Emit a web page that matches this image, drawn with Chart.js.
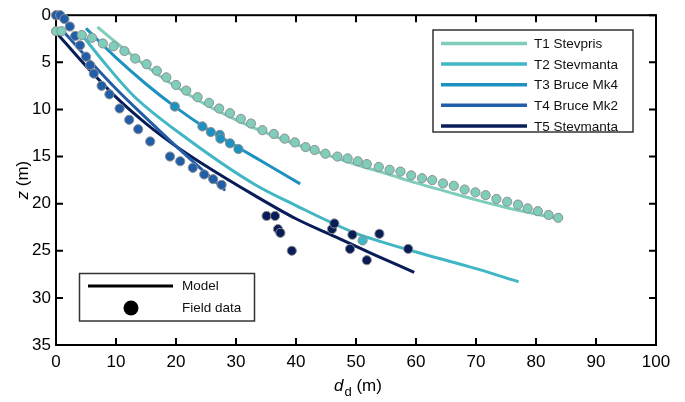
<!DOCTYPE html>
<html>
<head>
<meta charset="utf-8">
<script src="https://cdn.jsdelivr.net/npm/chart.js@4.4.0/dist/chart.umd.min.js"></script>
<style>
  html, body { margin: 0; padding: 0; background: #fff; }
</style>
</head>
<body>
<canvas id="mycanvas" width="685" height="402"></canvas>
<script>
var seriesNames = ["T1 Stevpris", "T2 Stevmanta", "T3 Bruce Mk4", "T4 Bruce Mk2", "T5 Stevmanta"];
var seriesColors = ["#7fcdbb", "#41b6c4", "#1d91c0", "#225ea8", "#081d58"];

var xTicks = [0, 10, 20, 30, 40, 50, 60, 70, 80, 90, 100];
var zTicks = [0, 5, 10, 15, 20, 25, 30, 35];

// model curves: drag distance d_d (m) vs depth z (m)
var t1ModelX = [6.9, 10, 15, 20, 25, 30, 35, 40, 45, 50, 55, 60, 65, 70, 75, 80, 83.6];
var t1ModelZ = [1.25, 2.9, 5.4, 7.6, 9.5, 11.1, 12.5, 13.7, 14.8, 15.85, 16.8, 17.8, 18.7, 19.6, 20.4, 21.1, 21.6];
var t2ModelX = [4.2, 8.4, 13, 21.2, 33.2, 40, 49.8, 54, 61.5, 70, 77.1];
var t2ModelZ = [2.0, 5.3, 8.6, 12.8, 18.0, 20.2, 23.1, 24.0, 25.4, 26.9, 28.3];
var t3ModelX = [5.0, 10, 15, 19.8, 25, 30, 34, 40.7];
var t3ModelZ = [1.4, 4.5, 7.3, 9.7, 12.0, 13.9, 15.4, 17.9];
var t4ModelX = [0.8, 5, 10, 15, 20, 24, 28.2];
var t4ModelZ = [1.4, 4.4, 7.8, 10.9, 13.9, 16.2, 18.6];
var t5ModelX = [0, 5, 10, 15, 20, 24, 33.3, 40, 46.5, 53, 59.7];
var t5ModelZ = [1.8, 5.4, 8.7, 11.5, 13.9, 15.6, 19.2, 21.6, 23.5, 25.4, 27.3];

// field measurements
var t1FieldX = [0.0, 0.9, 4.3, 6.0, 7.8, 9.6, 11.4, 13.2, 15.1, 16.8, 18.4, 20.0, 21.7, 23.6, 25.5, 27.2, 29.0, 30.8, 32.5, 34.4, 36.3, 38.1, 39.8, 41.6, 43.1, 44.9, 46.9, 48.6, 50.3, 51.8, 53.8, 55.6, 57.4, 59.2, 61.0, 62.7, 64.5, 66.3, 68.1, 69.9, 71.6, 73.4, 75.2, 77.0, 78.6, 80.3, 82.1, 83.7];
var t1FieldZ = [1.7, 1.7, 2.1, 2.4, 3.0, 3.3, 3.8, 4.6, 5.2, 5.9, 6.6, 7.4, 8.0, 8.7, 9.3, 9.9, 10.4, 11.0, 11.5, 12.2, 12.6, 13.1, 13.5, 14.0, 14.3, 14.7, 15.0, 15.2, 15.5, 15.8, 16.1, 16.4, 16.6, 17.0, 17.3, 17.5, 17.85, 18.1, 18.5, 18.8, 19.1, 19.5, 19.8, 20.1, 20.5, 20.8, 21.2, 21.5];
var t2FieldX = [51.1];
var t2FieldZ = [23.9];
var t3FieldX = [19.8, 24.4, 25.8, 27.3, 27.4, 29.0, 30.4];
var t3FieldZ = [9.7, 11.8, 12.4, 12.7, 13.1, 13.6, 14.2];
var t4FieldX = [0.0, 0.7, 1.4, 2.3, 3.2, 4.0, 5.0, 5.7, 6.3, 7.6, 8.9, 10.6, 12.2, 13.7, 15.7, 19.0, 20.7, 22.8, 24.7, 26.2, 27.6];
var t4FieldZ = [0.0, 0.0, 0.4, 1.2, 2.2, 3.2, 4.4, 5.3, 6.2, 7.5, 8.4, 9.9, 11.1, 12.1, 13.4, 15.0, 15.5, 16.2, 16.9, 17.4, 18.0];
var t5FieldX = [35.1, 36.5, 37.0, 37.4, 39.3, 46.0, 46.4, 49.4, 49.0, 51.8, 53.9, 58.7];
var t5FieldZ = [21.3, 21.3, 22.7, 23.1, 25.0, 22.7, 22.1, 23.3, 24.8, 26.0, 23.2, 24.8];

var fontFamily = "'Liberation Sans', Arial, Helvetica, sans-serif";

function pairs(xs, zs) {
	var out = [];
	for (var i = 0; i < xs.length; i++) {
		out.push({ x: xs[i], y: zs[i] });
	}
	return out;
}

var modelX = [t1ModelX, t2ModelX, t3ModelX, t4ModelX, t5ModelX];
var modelZ = [t1ModelZ, t2ModelZ, t3ModelZ, t4ModelZ, t5ModelZ];
var fieldX = [t1FieldX, t2FieldX, t3FieldX, t4FieldX, t5FieldX];
var fieldZ = [t1FieldZ, t2FieldZ, t3FieldZ, t4FieldZ, t5FieldZ];

var datasets = [];
for (var i = 0; i < seriesNames.length; i++) {
	datasets.push({
		label: seriesNames[i],
		data: pairs(modelX[i], modelZ[i]),
		showLine: true,
		borderColor: seriesColors[i],
		borderWidth: 3,
		pointRadius: 0,
		cubicInterpolationMode: 'monotone',
		clip: false,
		order: 2
	});
}
for (var j = 0; j < seriesNames.length; j++) {
	datasets.push({
		label: seriesNames[j] + " field",
		data: pairs(fieldX[j], fieldZ[j]),
		showLine: false,
		backgroundColor: seriesColors[j],
		borderColor: "#8f8f8f",
		borderWidth: 1,
		pointRadius: 4.6,
		clip: false,
		order: 1
	});
}

// box, inward tick marks on all four sides
var frameTicks = {
	id: 'frameTicks',
	beforeDatasetsDraw: function(chart) {
		var ctx = chart.ctx, a = chart.chartArea;
		var xs = chart.scales.x, ys = chart.scales.y;
		var len = 7;
		ctx.save();
		ctx.strokeStyle = '#000';
		ctx.lineWidth = 2;
		ctx.strokeRect(a.left, a.top, a.right - a.left, a.bottom - a.top);
		ctx.beginPath();
		xs.ticks.forEach(function(t) {
			var px = xs.getPixelForValue(t.value);
			ctx.moveTo(px, a.bottom); ctx.lineTo(px, a.bottom - len);
			ctx.moveTo(px, a.top); ctx.lineTo(px, a.top + len);
		});
		ys.ticks.forEach(function(t) {
			var py = ys.getPixelForValue(t.value);
			ctx.moveTo(a.left, py); ctx.lineTo(a.left + len, py);
			ctx.moveTo(a.right, py); ctx.lineTo(a.right - len, py);
		});
		ctx.stroke();
		ctx.restore();
	}
};

// axis titles with italic symbols and subscript
var axisTitles = {
	id: 'axisTitles',
	afterDraw: function(chart) {
		var ctx = chart.ctx, a = chart.chartArea;
		var italic = 'italic 17px ' + fontFamily;
		var plain = '17px ' + fontFamily;
		var small = '13px ' + fontFamily;
		ctx.save();
		ctx.fillStyle = '#000';
		ctx.textBaseline = 'alphabetic';
		ctx.textAlign = 'left';

		ctx.font = italic; var w1 = ctx.measureText('d').width;
		ctx.font = small; var w2 = ctx.measureText('d').width;
		ctx.font = plain; var w3 = ctx.measureText(' (m)').width;
		var total = w1 + w2 + w3 + 1;
		var cx = (a.left + a.right) / 2 + 2;
		var x0 = cx - total / 2, base = 391;
		ctx.font = italic; ctx.fillText('d', x0, base);
		ctx.font = small; ctx.fillText('d', x0 + w1 + 1, base + 5);
		ctx.font = plain; ctx.fillText(' (m)', x0 + w1 + 1 + w2, base);

		ctx.translate(28, (a.top + a.bottom) / 2);
		ctx.rotate(-Math.PI / 2);
		ctx.font = italic; var z1 = ctx.measureText('z').width;
		ctx.font = plain; var z2 = ctx.measureText(' (m)').width;
		var zx = -(z1 + z2) / 2;
		ctx.font = italic; ctx.fillText('z', zx, 0);
		ctx.font = plain; ctx.fillText(' (m)', zx + z1, 0);
		ctx.restore();
	}
};

// the two boxed legends
var boxLegends = {
	id: 'boxLegends',
	afterDraw: function(chart) {
		var ctx = chart.ctx;
		ctx.save();
		ctx.font = '13.5px ' + fontFamily;
		ctx.textBaseline = 'middle';
		ctx.textAlign = 'left';

		ctx.fillStyle = '#fff';
		ctx.fillRect(433, 30, 200, 102);
		ctx.strokeStyle = '#333';
		ctx.lineWidth = 1.5;
		ctx.strokeRect(433, 30, 200, 102);
		for (var i = 0; i < seriesNames.length; i++) {
			var y = 43.5 + i * 20.6;
			ctx.strokeStyle = seriesColors[i];
			ctx.lineWidth = 3.5;
			ctx.beginPath();
			ctx.moveTo(441, y); ctx.lineTo(527, y);
			ctx.stroke();
			ctx.fillStyle = '#111';
			ctx.fillText(seriesNames[i], 534, y + 1);
		}

		ctx.fillStyle = '#fff';
		ctx.fillRect(79.5, 273.5, 175, 47.5);
		ctx.strokeStyle = '#333';
		ctx.lineWidth = 1.5;
		ctx.strokeRect(79.5, 273.5, 175, 47.5);
		ctx.strokeStyle = '#000';
		ctx.lineWidth = 3;
		ctx.beginPath();
		ctx.moveTo(88, 286); ctx.lineTo(173, 286);
		ctx.stroke();
		ctx.fillStyle = '#000';
		ctx.beginPath();
		ctx.arc(131, 308, 7.5, 0, Math.PI * 2);
		ctx.fill();
		ctx.fillStyle = '#111';
		ctx.fillText('Model', 182, 286);
		ctx.fillText('Field data', 182, 308);
		ctx.restore();
	}
};

Chart.defaults.font.family = fontFamily;
Chart.defaults.color = '#000';

var ctx = document.getElementById('mycanvas');
var chart = new Chart(ctx, {
	type: 'scatter',
	data: { datasets: datasets },
	plugins: [frameTicks, axisTitles, boxLegends],
	options: {
		responsive: false,
		animation: false,
		devicePixelRatio: 1,
		layout: { padding: { top: 13, right: 29, left: 0, bottom: 0 } },
		plugins: { legend: { display: false }, tooltip: { enabled: false } },
		scales: {
			x: {
				type: 'linear',
				min: 0, max: 100,
				afterFit: function(s) { s.height = 57; },
				afterBuildTicks: function(s) { s.ticks = xTicks.map(function(v) { return { value: v }; }); },
				grid: { display: false, drawTicks: false },
				border: { display: false },
				ticks: { padding: 7, font: { size: 17 }, color: '#000', maxRotation: 0 }
			},
			y: {
				type: 'linear',
				reverse: true,
				min: 0, max: 35,
				afterFit: function(s) { s.width = 56; },
				afterBuildTicks: function(s) { s.ticks = zTicks.map(function(v) { return { value: v }; }); },
				grid: { display: false, drawTicks: false },
				border: { display: false },
				ticks: { padding: 5, font: { size: 17 }, color: '#000' }
			}
		}
	}
});
</script>
</body>
</html>
